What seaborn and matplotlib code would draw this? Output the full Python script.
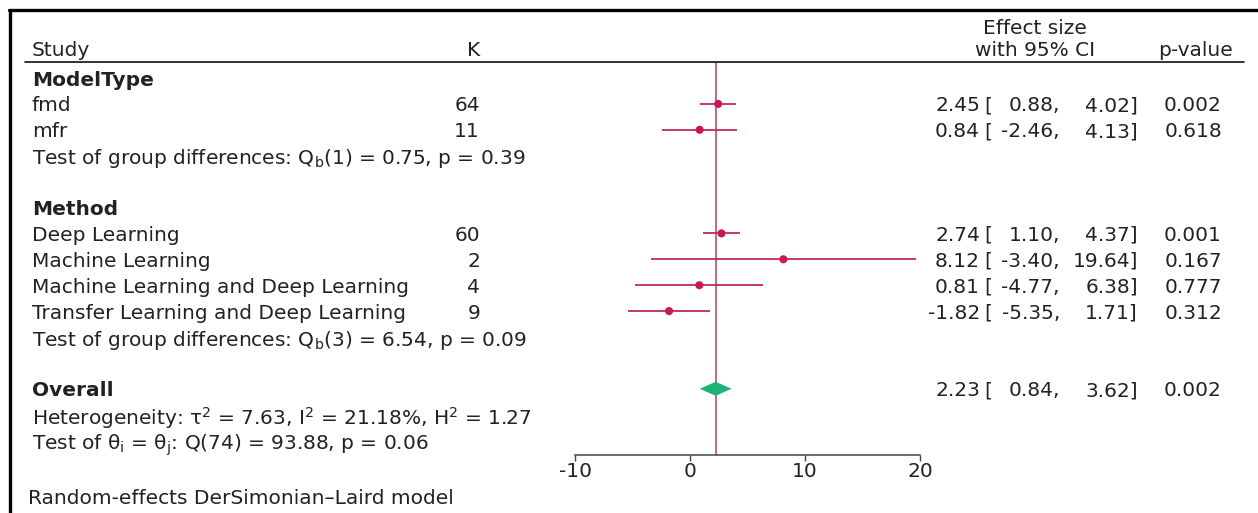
import numpy as np
import pandas as pd
import seaborn as sns
import matplotlib.pyplot as plt
from matplotlib import transforms
from matplotlib.lines import Line2D

sns.set_style('white')
plt.rcParams['font.family'] = ['DejaVu Sans']
plt.rcParams['mathtext.fontset'] = 'dejavusans'
plt.rcParams['axes.unicode_minus'] = False

# data
groups = ['ModelType', 'Method']
studies = ['fmd', 'mfr', 'Deep Learning', 'Machine Learning',
           'Machine Learning and Deep Learning', 'Transfer Learning and Deep Learning']
study_group = ['ModelType', 'ModelType', 'Method', 'Method', 'Method', 'Method']
k = [64, 11, 60, 2, 4, 9]
effect = [2.45, 0.84, 2.74, 8.12, 0.81, -1.82]
lower = [0.88, -2.46, 1.10, -3.40, -4.77, -5.35]
upper = [4.02, 4.13, 4.37, 19.64, 6.38, 1.71]
pvalue = [0.002, 0.618, 0.001, 0.167, 0.777, 0.312]
group_tests = ['Test of group differences: Q$_\\mathrm{b}$(1) = 0.75, p = 0.39',
               'Test of group differences: Q$_\\mathrm{b}$(3) = 6.54, p = 0.09']
overall_est, overall_lo, overall_hi, overall_p = 2.23, 0.84, 3.62, 0.002
het_text = 'Heterogeneity: τ$^2$ = 7.63, I$^2$ = 21.18%, H$^2$ = 1.27'
theta_text = 'Test of θ$_\\mathrm{i}$ = θ$_\\mathrm{j}$: Q(74) = 93.88, p = 0.06'
note_text = 'Random-effects DerSimonian–Laird model'
xticks = [-10, 0, 10, 20]

df = pd.DataFrame({'study': studies, 'group': study_group, 'k': k, 'effect': effect,
                   'lower': lower, 'upper': upper, 'p': pvalue})

# row layout: header, studies, test line, blank
row = 0
rows = []
headers = []
tests = []
for g, t in zip(groups, group_tests):
    headers.append((row, g))
    row += 1
    for i in df.index[df['group'] == g]:
        rows.append(row)
        row += 1
    tests.append((row, t))
    row += 2
df['row'] = rows
overall_row = row

W, H = 1258, 513
fig = plt.figure(figsize=(W / 100, H / 100), dpi=100)
fx = lambda x: x / W
fy = lambda y: 1 - y / H

row_h = 25.9
top_px, bot_px, first_px = 62, 455, 78
ax = fig.add_axes([fx(575), fy(bot_px), fx(920) - fx(575), (bot_px - top_px) / H])
ax.set_xlim(-10, 20)
ax.set_ylim((bot_px - first_px) / row_h, (top_px - first_px) / row_h)

fs = 14.5
tc = '#222222'
red = '#c8185a'

ax.axvline(overall_est, color='#b8607e', lw=1.3, zorder=1)
ax.hlines(df['row'], df['lower'], df['upper'], color='#c02a5e', lw=1.3, zorder=2)
sns.scatterplot(data=df, x='effect', y='row', color=red, s=34, edgecolor='none',
                legend=False, ax=ax, zorder=3)
dh = 0.27
ax.fill([overall_lo, overall_est, overall_hi, overall_est],
        [overall_row, overall_row - dh, overall_row, overall_row + dh],
        color='#1cb27a', lw=0, zorder=3)

for s in ['left', 'right', 'top']:
    ax.spines[s].set_visible(False)
ax.spines['bottom'].set_color('#444444')
ax.spines['bottom'].set_linewidth(1.1)
ax.set_xticks(xticks)
ax.set_yticks([])
ax.tick_params(axis='x', direction='out', length=4, width=1, color='#444444',
               labelsize=fs, labelcolor=tc, pad=1, bottom=True)
ax.set_xlabel('')
ax.set_ylabel('')
ax.patch.set_alpha(0)

# text columns (figure x, axes rows)
tr = transforms.blended_transform_factory(fig.transFigure, ax.transData)
kw = dict(transform=tr, fontsize=fs, color=tc, va='center_baseline')
xl = fx(32)

def ci_text(r, est, lo, hi, p):
    fig.text(fx(980), r, f'{est:.2f}', ha='right', **kw)
    fig.text(fx(984), r, '[', ha='left', **kw)
    fig.text(fx(1060), r, f'{lo:.2f},', ha='right', **kw)
    fig.text(fx(1138), r, f'{hi:.2f}]', ha='right', **kw)
    fig.text(fx(1193), r, f'{p:.3f}', ha='center', **kw)

for r, g in headers:
    fig.text(xl, r, g, ha='left', fontweight='bold', **kw)
for _, d in df.iterrows():
    fig.text(xl, d['row'], d['study'], ha='left', **kw)
    fig.text(fx(480), d['row'], str(d['k']), ha='right', **kw)
    ci_text(d['row'], d['effect'], d['lower'], d['upper'], d['p'])
for r, t in tests:
    fig.text(xl, r, t, ha='left', **kw)
fig.text(xl, overall_row, 'Overall', ha='left', fontweight='bold', **kw)
ci_text(overall_row, overall_est, overall_lo, overall_hi, overall_p)
fig.text(xl, overall_row + 1, het_text, ha='left', **kw)
fig.text(xl, overall_row + 2, theta_text, ha='left', **kw)

# header
fig.text(xl, fy(56), 'Study', ha='left', va='baseline', fontsize=fs, color=tc)
fig.text(fx(480), fy(56), 'K', ha='right', va='baseline', fontsize=fs, color=tc)
fig.text(fx(1035), fy(34), 'Effect size', ha='center', va='baseline', fontsize=fs, color=tc)
fig.text(fx(1035), fy(56), 'with 95% CI', ha='center', va='baseline', fontsize=fs, color=tc)
fig.text(fx(1196), fy(56), 'p-value', ha='center', va='baseline', fontsize=fs, color=tc)
fig.add_artist(Line2D([fx(25), fx(1244)], [fy(62), fy(62)], color='#111111', lw=1.2))

fig.text(fx(28), fy(497), note_text, ha='left', va='center_baseline', fontsize=fs, color=tc)

# frame
fig.add_artist(Line2D([fx(10), fx(10)], [fy(10), fy(H + 5)], color='black', lw=2.4))
fig.add_artist(Line2D([fx(9), fx(W + 5)], [fy(10), fy(10)], color='black', lw=2.4))

fig.savefig('out.png', dpi=100, facecolor='white')
